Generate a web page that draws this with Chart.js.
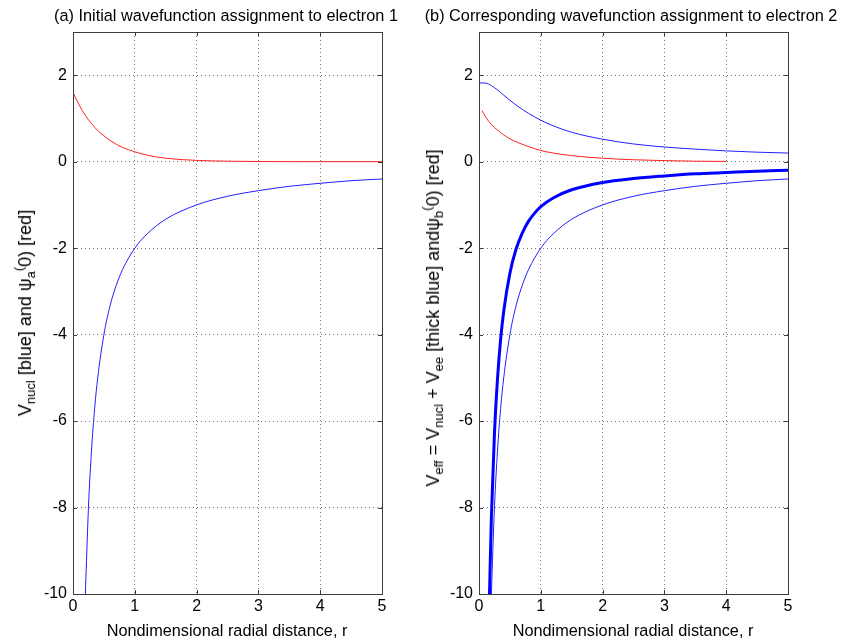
<!DOCTYPE html>
<html>
<head>
<meta charset="utf-8">
<script src="https://cdn.jsdelivr.net/npm/chart.js@4/dist/chart.umd.min.js"></script>
<style>
  html, body { margin: 0; padding: 0; background: #fff; }
  #wrap { position: relative; width: 844px; height: 641px; overflow: hidden; font-family: "Liberation Sans", Arial, sans-serif; color: #000; }
  canvas { position: absolute; top: 0; }
  .title, .xlab, .ylab { position: absolute; white-space: nowrap; font-size: 16.3px; line-height: 1; }
  .title, .xlab { transform: translate(-50%, -50%); }
  .ylab { font-size: 18px; transform: translate(-50%, -50%) rotate(-90deg); }
  sub, sup { font-size: 13px; line-height: 0; }
  sub { vertical-align: -4px; }
  sup { vertical-align: 8px; }
</style>
</head>
<body>
<div id="wrap">
  <canvas id="chartA" width="420" height="641" style="left:0"></canvas>
  <canvas id="chartB" width="424" height="641" style="left:420px"></canvas>

  <div class="title" style="left:226px; top:15px">(a) Initial wavefunction assignment to electron 1</div>
  <div class="title" style="left:631px; top:15px">(b) Corresponding wavefunction assignment to electron 2</div>
  <div class="xlab" style="left:227px; top:630px">Nondimensional radial distance, r</div>
  <div class="xlab" style="left:633px; top:630px">Nondimensional radial distance, r</div>
  <div class="ylab" style="left:25px; top:313px">V<sub>nucl</sub> [blue] and ψ<sub>a</sub><sup>(</sup>0) [red]</div>
  <div class="ylab" style="left:433px; top:318px">V<sub>eff</sub> = V<sub>nucl</sub> + V<sub>ee</sub> [thick blue] andψ<sub>b</sub><sup>(</sup>0) [red]</div>
</div>

<script>
// ── data ─────────────────────────────────────────────────────────────────────

const xTicks = [0, 1, 2, 3, 4, 5];
const yTicks = [-10, -8, -6, -4, -2, 0, 2];

// panel (a): red wavefunction
const psiA_r = [0, 0.1, 0.2, 0.3, 0.4, 0.5, 0.6, 0.8, 1.0, 1.2, 1.5, 2.0, 2.5, 3.0, 3.5, 4.0, 5.0];
const psiA_v = [1.60, 1.31, 1.07, 0.88, 0.72, 0.60, 0.49, 0.33, 0.23, 0.15, 0.08, 0.03, 0.012, 0.004, 0.001, 0, 0];

// nuclear potential (blue, thin) – same in both panels
const vNucl_r = [0.2, 0.25, 0.3, 0.35, 0.4, 0.5, 0.6, 0.7, 0.8, 1.0, 1.2, 1.5, 2.0, 2.5, 3.0, 3.5, 4.0, 4.5, 5.0];
const vNucl_v = [-10, -8, -6.67, -5.71, -5, -4, -3.33, -2.86, -2.5, -2, -1.67, -1.33, -1, -0.8, -0.67, -0.57, -0.5, -0.44, -0.4];

// panel (b): electron-electron potential (thin blue, upper)
const vEe_r = [0, 0.1, 0.15, 0.2, 0.3, 0.4, 0.5, 0.6, 0.8, 1.0, 1.2, 1.5, 2.0, 2.5, 3.0, 3.5, 4.0, 4.5, 5.0];
const vEe_v = [1.82, 1.82, 1.80, 1.76, 1.66, 1.54, 1.42, 1.31, 1.12, 0.96, 0.83, 0.68, 0.52, 0.41, 0.34, 0.29, 0.25, 0.22, 0.2];

// panel (b): effective potential (thick blue)
const vEff_r = [0.17, 0.2, 0.25, 0.3, 0.35, 0.4, 0.5, 0.6, 0.7, 0.8, 0.9, 1.0, 1.2, 1.5, 2.0, 2.5, 3.0, 3.5, 4.0, 4.5, 5.0];
const vEff_v = [-10, -8.24, -6.29, -5.01, -4.11, -3.46, -2.58, -2.02, -1.65, -1.38, -1.19, -1.04, -0.84, -0.65, -0.48, -0.39, -0.33, -0.28, -0.25, -0.22, -0.2];

// panel (b): red wavefunction
const psiB_r = [0.05, 0.1, 0.2, 0.3, 0.4, 0.5, 0.6, 0.8, 1.0, 1.2, 1.5, 2.0, 2.5, 3.0, 3.5, 4.0];
const psiB_v = [1.18, 1.05, 0.86, 0.73, 0.62, 0.53, 0.46, 0.35, 0.26, 0.20, 0.14, 0.08, 0.045, 0.025, 0.012, 0.006];

// ── helpers ──────────────────────────────────────────────────────────────────

const pts = (xs, ys) => xs.map((x, i) => ({ x, y: ys[i] }));

function series(xs, ys, color, width) {
  return {
    data: pts(xs, ys),
    borderColor: color,
    borderWidth: width,
    pointRadius: 0,
    showLine: true,
    fill: false,
    cubicInterpolationMode: 'monotone',
  };
}

// MATLAB-style box with inward tick marks
const boxPlugin = {
  id: 'box',
  afterDraw(chart) {
    const { ctx, chartArea: a, scales } = chart;
    ctx.save();
    ctx.strokeStyle = '#3c3c3c';
    ctx.lineWidth = 1;
    ctx.setLineDash([]);
    ctx.strokeRect(Math.round(a.left) + 0.5, Math.round(a.top) + 0.5,
      Math.round(a.right - a.left), Math.round(a.bottom - a.top));
    ctx.beginPath();
    const tl = 4;
    xTicks.forEach((v) => {
      const px = Math.round(scales.x.getPixelForValue(v)) + 0.5;
      ctx.moveTo(px, a.bottom); ctx.lineTo(px, a.bottom - tl);
      ctx.moveTo(px, a.top); ctx.lineTo(px, a.top + tl);
    });
    yTicks.forEach((v) => {
      const py = Math.round(scales.y.getPixelForValue(v)) + 0.5;
      ctx.moveTo(a.left, py); ctx.lineTo(a.left + tl, py);
      ctx.moveTo(a.right, py); ctx.lineTo(a.right - tl, py);
    });
    ctx.stroke();
    ctx.restore();
  },
};

function makeChart(id, datasets, yAxisWidth, padRight) {
  return new Chart(document.getElementById(id), {
    type: 'scatter',
    data: { datasets },
    plugins: [boxPlugin],
    options: {
      responsive: false,
      animation: false,
      layout: { padding: { top: 32, right: padRight, bottom: 0, left: 0 } },
      plugins: { legend: { display: false }, tooltip: { enabled: false } },
      scales: {
        x: {
          type: 'linear', min: 0, max: 5,
          afterBuildTicks: (s) => { s.ticks = xTicks.map((value) => ({ value })); },
          afterFit: (s) => { s.height = 47; },
          grid: { color: 'rgba(0,0,0,0.55)', drawTicks: false, lineWidth: 1 },
          border: { display: false, dash: [1, 3] },
          ticks: { color: '#000', font: { family: 'Liberation Sans', size: 16 }, padding: 3, maxRotation: 0 },
        },
        y: {
          type: 'linear', min: -10, max: 3,
          afterBuildTicks: (s) => { s.ticks = yTicks.map((value) => ({ value })); },
          afterFit: (s) => { s.width = yAxisWidth; },
          grid: { color: 'rgba(0,0,0,0.55)', drawTicks: false, lineWidth: 1 },
          border: { display: false, dash: [1, 3] },
          ticks: { color: '#000', font: { family: 'Liberation Sans', size: 16 }, padding: 6 },
        },
      },
    },
  });
}

// ── charts ───────────────────────────────────────────────────────────────────

makeChart('chartA', [
  series(psiA_r, psiA_v, '#ff2020', 1),
  series(vNucl_r, vNucl_v, '#2020ff', 1),
], 73, 38);

makeChart('chartB', [
  series(vEe_r, vEe_v, '#2020ff', 1),
  series(psiB_r, psiB_v, '#ff2020', 1),
  series(vNucl_r, vNucl_v, '#2020ff', 1),
  series(vEff_r, vEff_v, '#0000ff', 3),
], 59, 56);
</script>
</body>
</html>
